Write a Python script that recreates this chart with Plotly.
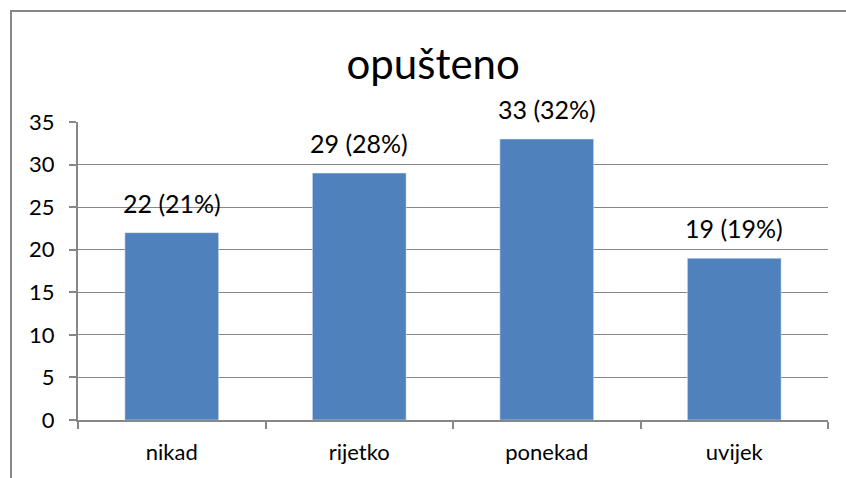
import plotly.graph_objects as go

categories = ['nikad', 'rijetko', 'ponekad', 'uvijek']
values = [22, 29, 33, 19]
percent = ['21%', '28%', '32%', '19%']
y_ticks = [0, 5, 10, 15, 20, 25, 30, 35]

labels = ['%d (%s)' % (v, p) for v, p in zip(values, percent)]
font = 'Lato, Open Sans, sans-serif'
grey = '#878787'

fig = go.Figure(go.Bar(x=categories, y=values, marker_color='#4F81BD', width=0.5,
                       hoverinfo='skip'))

# value labels above the bars
for c, v, t in zip(categories, values, labels):
    fig.add_annotation(x=c, y=v, text=t, showarrow=False, yanchor='bottom', yshift=13,
                       font=dict(size=25, color='#000000', family=font))

# outer chart frame
fig.add_shape(type='rect', xref='paper', yref='paper', x0=-0.0893, x1=1.1, y0=-0.3, y1=1.3725,
              line=dict(color=grey, width=2), layer='below')

fig.update_layout(
    title=dict(text='opušteno', xref='container', x=0.512, xanchor='center',
               y=0.865, yanchor='middle',
               font=dict(size=42, color='#000000', family=font)),
    width=846, height=478,
    margin=dict(l=78, r=18, t=122, b=58),
    paper_bgcolor='white', plot_bgcolor='white',
    showlegend=False,
    font=dict(family=font, size=22, color='#000000'),
)
fig.update_xaxes(showline=True, linecolor=grey, linewidth=2, tickson='boundaries',
                 ticks='outside', ticklen=7, tickcolor=grey, tickwidth=2,
                 ticklabelstandoff=12, tickfont=dict(size=22))
fig.update_yaxes(range=[0, 35], tickvals=y_ticks, showline=True, linecolor=grey, linewidth=2,
                 ticks='outside', ticklen=7, tickcolor=grey, tickwidth=2,
                 showgrid=True, gridcolor=grey, gridwidth=1, zeroline=False,
                 ticklabelstandoff=10, tickfont=dict(size=22))

fig.write_html('out.html', config={'displayModeBar': False},
               post_script="document.body.style.margin='0';")
